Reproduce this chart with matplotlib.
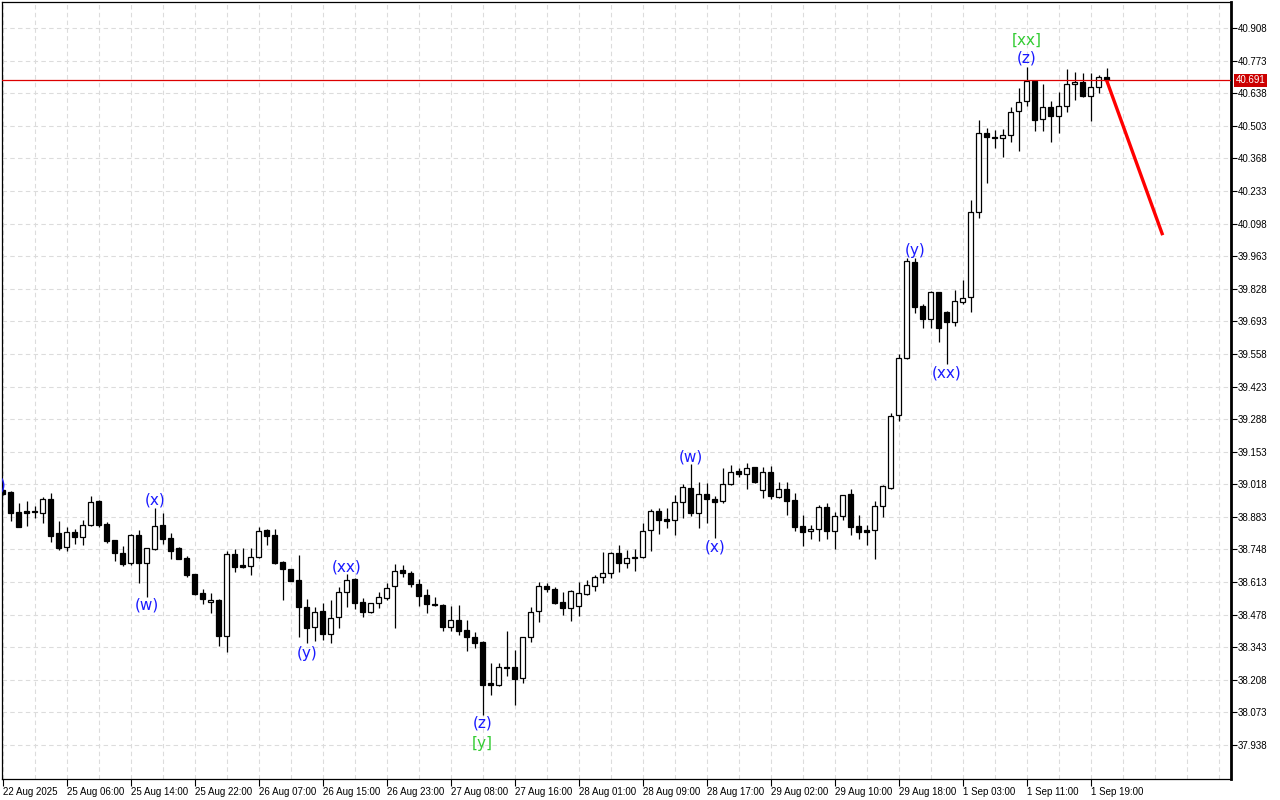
import numpy as np
import matplotlib
import matplotlib.pyplot as plt

#Backend sin pantalla
matplotlib.use("Agg")

#Precios OHLC de cada vela (1 hora)
opens = [38.994, 38.987, 38.903, 38.907, 38.907, 38.898, 38.956, 38.815, 38.757, 38.820,
         38.801, 38.848, 38.949, 38.853, 38.787, 38.732, 38.691, 38.808, 38.693, 38.751,
         38.849, 38.794, 38.753, 38.714, 38.646, 38.566, 38.529, 38.539, 38.391, 38.728,
         38.682, 38.681, 38.716, 38.828, 38.808, 38.696, 38.666, 38.621, 38.511, 38.425,
         38.493, 38.396, 38.469, 38.570, 38.625, 38.529, 38.490, 38.525, 38.548, 38.598,
         38.663, 38.649, 38.604, 38.559, 38.522, 38.518, 38.428, 38.456, 38.414, 38.384,
         38.366, 38.193, 38.186, 38.260, 38.260, 38.214, 38.384, 38.494, 38.597, 38.583,
         38.529, 38.504, 38.514, 38.565, 38.596, 38.633, 38.649, 38.732, 38.691, 38.711,
         38.715, 38.827, 38.907, 38.874, 38.870, 38.943, 39.001, 38.898, 38.976, 38.956,
         38.949, 39.018, 39.073, 39.059, 39.088, 38.994, 39.070, 38.966, 38.997, 38.953,
         38.845, 38.823, 38.834, 38.923, 38.826, 38.888, 38.978, 38.845, 38.828, 38.828,
         38.929, 39.001, 39.305, 39.540, 39.937, 39.756, 39.703, 39.813, 39.730, 39.691,
         39.774, 39.792, 40.145, 40.472, 40.458, 40.451, 40.464, 40.564, 40.606, 40.688,
         40.531, 40.580, 40.545, 40.586, 40.675, 40.684, 40.628, 40.662, 40.706]
highs = [38.998, 38.991, 38.942, 38.949, 38.928, 38.966, 38.983, 38.866, 38.842, 38.831,
         38.870, 38.971, 38.951, 38.863, 38.789, 38.762, 38.810, 38.828, 38.756, 38.920,
         38.900, 38.815, 38.757, 38.721, 38.648, 38.583, 38.566, 38.541, 38.741, 38.749,
         38.753, 38.754, 38.840, 38.833, 38.831, 38.699, 38.668, 38.725, 38.543, 38.508,
         38.527, 38.539, 38.591, 38.646, 38.631, 38.546, 38.527, 38.570, 38.608, 38.686,
         38.682, 38.659, 38.624, 38.583, 38.553, 38.522, 38.514, 38.518, 38.456, 38.407,
         38.368, 38.279, 38.279, 38.411, 38.331, 38.386, 38.511, 38.612, 38.610, 38.591,
         38.573, 38.580, 38.612, 38.621, 38.642, 38.736, 38.736, 38.766, 38.746, 38.750,
         38.856, 38.914, 38.918, 38.918, 38.973, 39.019, 39.102, 39.028, 39.022, 38.971,
         39.084, 39.098, 39.084, 39.105, 39.090, 39.091, 39.094, 39.026, 39.028, 38.981,
         38.891, 38.849, 38.932, 38.942, 38.904, 38.975, 38.998, 38.891, 38.849, 38.949,
         39.013, 39.313, 39.556, 39.954, 39.954, 39.765, 39.819, 39.815, 39.737, 39.823,
         39.864, 40.196, 40.527, 40.493, 40.485, 40.491, 40.580, 40.658, 40.748, 40.690,
         40.676, 40.607, 40.644, 40.737, 40.724, 40.720, 40.720, 40.713, 40.741]
lows = [38.973, 38.867, 38.840, 38.846, 38.879, 38.856, 38.780, 38.746, 38.741, 38.771,
        38.766, 38.846, 38.839, 38.776, 38.700, 38.681, 38.684, 38.610, 38.552, 38.746,
        38.769, 38.707, 38.708, 38.635, 38.559, 38.521, 38.483, 38.350, 38.322, 38.653,
        38.670, 38.642, 38.714, 38.766, 38.686, 38.539, 38.617, 38.387, 38.359, 38.369,
        38.373, 38.362, 38.421, 38.511, 38.500, 38.469, 38.483, 38.504, 38.539, 38.421,
        38.635, 38.594, 38.515, 38.486, 38.514, 38.411, 38.411, 38.394, 38.328, 38.338,
        38.062, 38.145, 38.184, 38.224, 38.104, 38.196, 38.366, 38.449, 38.571, 38.522,
        38.476, 38.453, 38.472, 38.559, 38.577, 38.610, 38.631, 38.656, 38.670, 38.659,
        38.713, 38.743, 38.811, 38.836, 38.808, 38.879, 38.886, 38.838, 38.856, 38.794,
        38.942, 39.015, 39.049, 38.997, 39.022, 38.960, 38.957, 38.960, 38.891, 38.826,
        38.762, 38.791, 38.784, 38.791, 38.750, 38.870, 38.808, 38.791, 38.766, 38.707,
        38.881, 38.999, 39.280, 39.538, 39.726, 39.666, 39.666, 39.608, 39.515, 39.674,
        39.763, 39.733, 40.121, 40.267, 40.410, 40.375, 40.437, 40.400, 40.586, 40.483,
        40.483, 40.437, 40.472, 40.559, 40.610, 40.621, 40.524, 40.640, 40.689]
closes = [38.978, 38.900, 38.842, 38.900, 38.902, 38.956, 38.805, 38.755, 38.819, 38.801,
          38.848, 38.946, 38.850, 38.784, 38.732, 38.688, 38.808, 38.691, 38.754, 38.844,
          38.792, 38.743, 38.710, 38.642, 38.563, 38.544, 38.537, 38.391, 38.728, 38.676,
          38.676, 38.716, 38.826, 38.805, 38.693, 38.666, 38.619, 38.511, 38.424, 38.490,
          38.396, 38.463, 38.570, 38.621, 38.527, 38.490, 38.525, 38.550, 38.587, 38.660,
          38.649, 38.606, 38.556, 38.521, 38.516, 38.428, 38.456, 38.411, 38.386, 38.362,
          38.186, 38.186, 38.260, 38.256, 38.210, 38.384, 38.490, 38.597, 38.583, 38.527,
          38.504, 38.576, 38.566, 38.599, 38.634, 38.649, 38.732, 38.691, 38.711, 38.718,
          38.824, 38.907, 38.870, 38.865, 38.943, 39.005, 38.898, 38.976, 38.956, 38.943,
          39.018, 39.070, 39.059, 39.087, 39.029, 39.070, 38.971, 38.997, 38.950, 38.842,
          38.821, 38.831, 38.923, 38.826, 38.888, 38.973, 38.842, 38.821, 38.821, 38.928,
          39.011, 39.302, 39.540, 39.943, 39.753, 39.703, 39.813, 39.666, 39.691, 39.777,
          39.788, 40.145, 40.472, 40.455, 40.451, 40.463, 40.559, 40.603, 40.688, 40.527,
          40.580, 40.545, 40.585, 40.675, 40.684, 40.626, 40.664, 40.704, 40.691]

#Etiquetas de tiempo (una cada 8 velas)
time_labels = ["22 Aug 2025", "25 Aug 06:00", "25 Aug 14:00", "25 Aug 22:00", "26 Aug 07:00",
               "26 Aug 15:00", "26 Aug 23:00", "27 Aug 08:00", "27 Aug 16:00", "28 Aug 01:00",
               "28 Aug 09:00", "28 Aug 17:00", "29 Aug 02:00", "29 Aug 10:00", "29 Aug 18:00",
               "1 Sep 03:00", "1 Sep 11:00", "1 Sep 19:00"]

#Niveles del eje de precios
price_ticks = [37.938, 38.073, 38.208, 38.343, 38.478, 38.613, 38.748, 38.883, 39.018, 39.153,
               39.288, 39.423, 39.558, 39.693, 39.828, 39.963, 40.098, 40.233, 40.368, 40.503,
               40.638, 40.773, 40.908]

#Marcas de ondas: texto, vela, precio
wave_text = ["(x)", "(w)", "(x)", "(y)", "(xx)", "(z)", "(w)", "(x)", "(y)", "(xx)", "(z)"]
wave_bar = [-0.85, 18, 19, 38, 43, 60, 86, 89, 114, 118, 128]
wave_price = [39.015, 38.518, 38.953, 38.318, 38.676, 38.029, 39.132, 38.757, 39.988, 39.478, 40.784]
major_text = ["[y]", "[xx]"]
major_bar = [60, 128]
major_price = [37.946, 40.858]

#Pronostico (linea roja)
forecast_bar = [138, 145]
forecast_price = [40.691, 40.050]
last_price = 40.691

opens = np.array(opens)
closes = np.array(closes)
highs = np.array(highs)
lows = np.array(lows)
idx = np.arange(len(opens))

fig = plt.figure(figsize=(12.8, 8), dpi=100)
ax = fig.add_axes([2 / 1280, 21 / 800, 1229 / 1280, 777 / 800])

#Mechas
ax.vlines(idx, lows, highs, color="black", linewidth=0.9, zorder=3)

#Cuerpos
up = closes >= opens
bottoms = np.minimum(opens, closes)
heights = np.maximum(np.abs(closes - opens), 0.0008)
ax.bar(idx[up], heights[up], bottom=bottoms[up], width=0.6, color="white",
       edgecolor="black", linewidth=0.9, zorder=4)
ax.bar(idx[~up], heights[~up], bottom=bottoms[~up], width=0.6, color="black",
       edgecolor="black", linewidth=0.9, zorder=4)

#Linea del precio actual
ax.axhline(last_price, color="#dd0000", linewidth=0.9, zorder=5)

#Linea de pronostico
ax.plot(forecast_bar, forecast_price, color="#ff0000", linewidth=2.4, zorder=6,
        solid_capstyle="butt")

#Etiquetas de ondas
for t, b, p in zip(wave_text, wave_bar, wave_price):
    ax.text(b, p, t, color="#1a1aff", fontsize=11, ha="center", va="center", zorder=7, clip_on=True)
for t, b, p in zip(major_text, major_bar, major_price):
    ax.text(b, p, t, color="#33cc33", fontsize=11, ha="center", va="center", zorder=7)

#Ejes
ax.set_xlim(-0.0875, 153.54)
ax.set_ylim(37.797, 41.016)

ax.set_xticks(np.arange(0, len(time_labels) * 8, 8))
ax.set_xticklabels(time_labels, ha="left", fontsize=7, family="Liberation Sans")
ax.set_xticks(np.arange(0, 154, 4), minor=True)
ax.tick_params(axis="x", which="major", direction="out", length=5, width=0.8, pad=1)
ax.tick_params(axis="x", which="minor", length=0)

ax.yaxis.tick_right()
ax.set_yticks(price_ticks)
ax.set_yticklabels([f"{v:.3f}" for v in price_ticks], fontsize=7, family="Liberation Sans")
ax.tick_params(axis="y", direction="out", length=4, width=0.8, pad=1)

ax.grid(True, which="both", axis="x", color="#dcdcdc", linestyle=(0, (4, 3)), linewidth=0.8, zorder=0)
ax.grid(True, which="major", axis="y", color="#dcdcdc", linestyle=(0, (4, 3)), linewidth=0.8, zorder=0)
ax.set_axisbelow(True)

for s in ["left", "bottom", "top"]:
    ax.spines[s].set_linewidth(0.9)
ax.spines["right"].set_linewidth(2)

#Caja del precio actual
ax.text(1.004, last_price, f"{last_price:.3f}", transform=ax.get_yaxis_transform(),
        fontsize=7, family="Liberation Sans", color="white", ha="left", va="center",
        bbox=dict(boxstyle="square,pad=0.15", facecolor="#cc0000", edgecolor="none"), zorder=10,
        clip_on=False)

plt.savefig("out.png", dpi=100)
